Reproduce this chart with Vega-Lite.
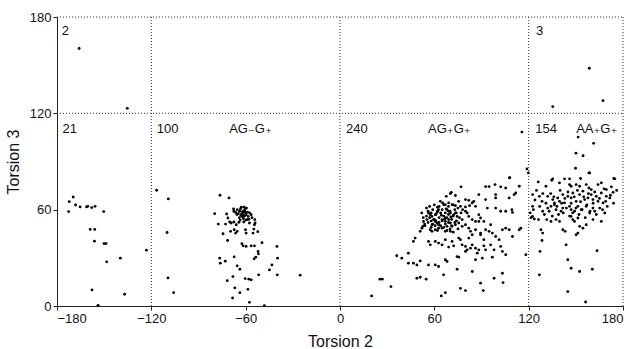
{
"$schema": "https://vega.github.io/schema/vega-lite/v6.json",
"width": 566, "height": 289,
"autosize": "none",
"padding": {"left": 57, "top": 17, "right": 14, "bottom": 43},
"background": "white",
"config": {"view": {"stroke": null}, "font": "Liberation Sans"},
"datasets": {
"pts": [
{"t2":-172.6,"t3":58.8},{"t2":-172.2,"t3":65},{"t2":-169.7,"t3":67.9},{"t2":-168.2,"t3":62.9},{"t2":-165.3,"t3":61.7},{"t2":-161.2,"t3":61.7},{"t2":-160.4,"t3":62.1},{"t2":-157.9,"t3":61.3},{"t2":-155.8,"t3":62.1},{"t2":-150.3,"t3":58.8},{"t2":-158.9,"t3":47.7},{"t2":-156,"t3":47.7},{"t2":-156.2,"t3":40.4},{"t2":-150.1,"t3":38.9},{"t2":-148.8,"t3":38.9},{"t2":-148.4,"t3":27.5},{"t2":-139.7,"t3":29.8},{"t2":-123.1,"t3":34.8},{"t2":-157.7,"t3":10},{"t2":-137,"t3":7.3},{"t2":-153.9,"t3":0.4},
{"t2":-165.9,"t3":160.4},{"t2":-135.3,"t3":123.1},{"t2":158.6,"t3":148.1},{"t2":167.3,"t3":127.9},{"t2":135.3,"t3":124.2},
{"t2":-116.6,"t3":72.1},{"t2":-109.2,"t3":66.7},{"t2":-110,"t3":45.8},{"t2":-109.4,"t3":17.5},{"t2":-105.8,"t3":8.3},
{"t2":-76.3,"t3":69},{"t2":-70.6,"t3":67.3},{"t2":-79.7,"t3":57.5},{"t2":-77.4,"t3":51},{"t2":-72.8,"t3":51},{"t2":-72.1,"t3":57.3},{"t2":-71.3,"t3":54.8},{"t2":-70.2,"t3":52.3},{"t2":-69.2,"t3":51.7},{"t2":-67.7,"t3":60.4},{"t2":-67.5,"t3":59},{"t2":-66.4,"t3":58.3},{"t2":-65.4,"t3":60},{"t2":-64.7,"t3":57.5},{"t2":-63.9,"t3":59},{"t2":-63.3,"t3":60.4},{"t2":-62.6,"t3":57.3},{"t2":-62.2,"t3":55.8},{"t2":-61.6,"t3":59},{"t2":-60.5,"t3":60},{"t2":-60.1,"t3":57.9},{"t2":-59.7,"t3":56.9},{"t2":-58.4,"t3":55.8},{"t2":-59.1,"t3":53.8},{"t2":-57.6,"t3":51.7},{"t2":-56.5,"t3":56.9},{"t2":-54.2,"t3":53.8},{"t2":-54,"t3":51.7},{"t2":-54.4,"t3":50.6},{"t2":-61.2,"t3":52.3},{"t2":-64.3,"t3":52.1},{"t2":-66,"t3":50.6},{"t2":-67.5,"t3":52.3},{"t2":-69.6,"t3":46.5},{"t2":-67.3,"t3":47.5},{"t2":-66.4,"t3":45.4},{"t2":-65.4,"t3":46.5},{"t2":-71.5,"t3":40.8},{"t2":-74.4,"t3":45},{"t2":-60.1,"t3":47.5},{"t2":-59.7,"t3":45.4},{"t2":-54.8,"t3":47.9},{"t2":-55.3,"t3":45.4},{"t2":-52.3,"t3":46.3},{"t2":-62.4,"t3":38.8},{"t2":-61.6,"t3":37.5},{"t2":-59.7,"t3":37.1},{"t2":-56.5,"t3":37.5},{"t2":-54.4,"t3":37.5},{"t2":-52.1,"t3":34},{"t2":-51.9,"t3":32.5},{"t2":-53.6,"t3":30.4},{"t2":-54.6,"t3":29.4},{"t2":-49.6,"t3":39.4},{"t2":-40.1,"t3":37.1},{"t2":-39.7,"t3":29.8},{"t2":-43.3,"t3":25.6},{"t2":-44.9,"t3":22.5},{"t2":-39.9,"t3":19.4},{"t2":-51.7,"t3":19.4},{"t2":-25.3,"t3":19.2},{"t2":-76.5,"t3":29.8},{"t2":-76.1,"t3":26.7},{"t2":-73,"t3":27.9},{"t2":-67.3,"t3":30.6},{"t2":-65.4,"t3":25},{"t2":-63.7,"t3":22.9},{"t2":-71.7,"t3":15.8},{"t2":-68.1,"t3":18.3},{"t2":-60.3,"t3":17.1},{"t2":-58,"t3":16.7},{"t2":-56.5,"t3":16.3},{"t2":-66.9,"t3":11.3},{"t2":-63.7,"t3":8.3},{"t2":-58.6,"t3":10.4},{"t2":-68.3,"t3":5},{"t2":-57.6,"t3":2.3},{"t2":-48.1,"t3":0.2},
{"t2":-61,"t3":61.5},{"t2":-62,"t3":58.5},{"t2":-60.8,"t3":56},{"t2":-63,"t3":56.5},{"t2":-58.8,"t3":58.5},{"t2":-61.5,"t3":54.5},{"t2":-64,"t3":55},{"t2":-59.5,"t3":61},{"t2":-57.5,"t3":58},{"t2":-62.8,"t3":61.5},{"t2":-60,"t3":53.5},{"t2":-65.5,"t3":57},{"t2":-58,"t3":54},{"t2":-63.5,"t3":53.5},{"t2":-56,"t3":55},{"t2":-60.5,"t3":58.8},{"t2":-61.8,"t3":57},
{"t2":108,"t3":80},{"t2":92.6,"t3":74.4},{"t2":94.8,"t3":74.4},{"t2":98.6,"t3":75.6},{"t2":102.2,"t3":74.2},{"t2":105.4,"t3":73.5},{"t2":114,"t3":74.6},{"t2":111.8,"t3":70.4},{"t2":110.8,"t3":69.4},{"t2":107.6,"t3":67.3},
{"t2":99,"t3":69.4},{"t2":99,"t3":67.3},{"t2":88.3,"t3":69.4},{"t2":92.6,"t3":66.3},{"t2":77,"t3":74.2},{"t2":70.8,"t3":70.8},{"t2":70.2,"t3":70},{"t2":73.4,"t3":68.8},{"t2":67.6,"t3":68.3},{"t2":63.8,"t3":65.2},
{"t2":65.3,"t3":64.2},{"t2":67,"t3":63.1},{"t2":69.1,"t3":64.2},{"t2":71.3,"t3":63.1},{"t2":75.5,"t3":65.2},{"t2":79.8,"t3":66.3},{"t2":81.9,"t3":65.8},{"t2":84.1,"t3":64.2},{"t2":85.1,"t3":65.2},{"t2":73.4,"t3":62.5},
{"t2":76.6,"t3":62.1},{"t2":79.8,"t3":61.7},{"t2":82.4,"t3":62.5},{"t2":86.2,"t3":62.1},{"t2":93.7,"t3":61},{"t2":99,"t3":61},{"t2":102.2,"t3":59},{"t2":105.4,"t3":59},{"t2":109.3,"t3":60},{"t2":109.7,"t3":58.3},
{"t2":79.8,"t3":59},{"t2":80.9,"t3":57.9},{"t2":81.9,"t3":55.8},{"t2":84.1,"t3":53.8},{"t2":86.2,"t3":52.7},{"t2":88.3,"t3":56.9},{"t2":89.4,"t3":54.8},{"t2":88.3,"t3":52.7},{"t2":91.5,"t3":52.7},{"t2":95.8,"t3":50.6},
{"t2":73.4,"t3":57.9},{"t2":72.3,"t3":56.9},{"t2":74.5,"t3":55.8},{"t2":68.1,"t3":60},{"t2":69.1,"t3":59},{"t2":70.2,"t3":57.9},{"t2":62.7,"t3":60},{"t2":61.7,"t3":58.3},{"t2":60.6,"t3":56.9},{"t2":58.5,"t3":55.8},
{"t2":56.3,"t3":57.9},{"t2":57.4,"t3":56.9},{"t2":59.5,"t3":53.8},{"t2":60.6,"t3":52.7},{"t2":61.7,"t3":51.7},{"t2":62.7,"t3":50.6},{"t2":64.9,"t3":53.8},{"t2":67,"t3":54.8},{"t2":67,"t3":52.7},{"t2":69.1,"t3":53.8},
{"t2":70.2,"t3":51.7},{"t2":68.1,"t3":49.6},{"t2":71.3,"t3":49.6},{"t2":73.4,"t3":50.6},{"t2":75.5,"t3":51.7},{"t2":77.7,"t3":53.8},{"t2":64.9,"t3":48.5},{"t2":62.7,"t3":48.5},{"t2":60.6,"t3":47.5},{"t2":58.5,"t3":50.6},
{"t2":55.3,"t3":53.8},{"t2":53.1,"t3":52.7},{"t2":53.8,"t3":51},{"t2":52.1,"t3":48.5},{"t2":51,"t3":46.5},{"t2":52.7,"t3":49.6},{"t2":57.4,"t3":47.5},{"t2":58.5,"t3":46.5},{"t2":67,"t3":46.5},{"t2":70.2,"t3":46.5},
{"t2":77.7,"t3":49.6},{"t2":79.8,"t3":50.6},{"t2":81.9,"t3":48.5},{"t2":83,"t3":46.5},{"t2":86.2,"t3":47.5},{"t2":84.1,"t3":44.4},{"t2":81.9,"t3":42.3},{"t2":89.4,"t3":44.4},{"t2":92.6,"t3":47.5},{"t2":89.4,"t3":45.4},
{"t2":94.8,"t3":46.5},{"t2":91.5,"t3":41.3},{"t2":96.9,"t3":45.4},{"t2":99,"t3":43.3},{"t2":101.2,"t3":41.3},{"t2":109.7,"t3":43.3},{"t2":114,"t3":47.5},{"t2":115,"t3":48.5},{"t2":103.3,"t3":47.5},{"t2":105.4,"t3":48.5},
{"t2":107.6,"t3":47.5},{"t2":47.8,"t3":42.3},{"t2":46.7,"t3":40.2},{"t2":56.3,"t3":40.2},{"t2":57.4,"t3":38.1},{"t2":60.6,"t3":40.2},{"t2":62.7,"t3":39.2},{"t2":64.9,"t3":38.1},{"t2":67,"t3":41.3},{"t2":69.1,"t3":36.7},
{"t2":71.3,"t3":40.2},{"t2":72.3,"t3":37.5},{"t2":75.5,"t3":42.3},{"t2":76.6,"t3":41.3},{"t2":77.7,"t3":38.1},{"t2":79.8,"t3":37.1},{"t2":80.9,"t3":35},{"t2":83,"t3":36},{"t2":84.1,"t3":38.1},{"t2":86.2,"t3":36},
{"t2":88.3,"t3":35},{"t2":87.3,"t3":32.9},{"t2":91.5,"t3":37.5},{"t2":92.6,"t3":35},{"t2":95.8,"t3":38.1},{"t2":98,"t3":35},{"t2":102.2,"t3":37.1},{"t2":103.3,"t3":34},{"t2":43.5,"t3":32.9},{"t2":36.1,"t3":31.3},
{"t2":39.3,"t3":29.8},{"t2":43.5,"t3":26.7},{"t2":46.7,"t3":26.7},{"t2":48.9,"t3":25.6},{"t2":51,"t3":28.1},{"t2":56.3,"t3":25.6},{"t2":60.6,"t3":25.6},{"t2":62.7,"t3":24.6},{"t2":67,"t3":28.8},{"t2":68.1,"t3":27.7},
{"t2":74.5,"t3":30.8},{"t2":75.5,"t3":30.4},{"t2":79.8,"t3":34},{"t2":86.2,"t3":28.8},{"t2":90.5,"t3":29.8},{"t2":96.9,"t3":30.4},{"t2":105.4,"t3":31.9},{"t2":118.2,"t3":31.9},{"t2":48.9,"t3":17.3},{"t2":51,"t3":17.9},
{"t2":54.8,"t3":16.7},{"t2":65.9,"t3":19.4},{"t2":74.5,"t3":22.9},{"t2":84.1,"t3":21.5},{"t2":98,"t3":17.3},{"t2":103.3,"t3":20.4},{"t2":103.7,"t3":14.6},{"t2":89.4,"t3":14.2},{"t2":91.1,"t3":9.6},{"t2":76.6,"t3":11},
{"t2":79.8,"t3":9.6},{"t2":67,"t3":8.3},{"t2":64.4,"t3":6.3},{"t2":25.4,"t3":16.7},{"t2":26.9,"t3":16.7},{"t2":32.4,"t3":12.1},{"t2":20.1,"t3":6.3},
{"t2":115.7,"t3":108.3},{"t2":118.9,"t3":85.4},{"t2":119.8,"t3":82.9},{"t2":107.8,"t3":79.8},
{"t2":55,"t3":56},{"t2":56,"t3":59},{"t2":57,"t3":55},{"t2":58,"t3":58},{"t2":59,"t3":60},{"t2":60,"t3":54},{"t2":61,"t3":57},{"t2":62,"t3":59},{"t2":63,"t3":55},{"t2":64,"t3":58},
{"t2":65,"t3":60},{"t2":66,"t3":56},{"t2":67,"t3":58},{"t2":68,"t3":55},{"t2":69,"t3":57},{"t2":70,"t3":59},{"t2":71,"t3":54},{"t2":72,"t3":56},{"t2":73,"t3":60},{"t2":74,"t3":53},
{"t2":54,"t3":50},{"t2":56,"t3":52},{"t2":58,"t3":49},{"t2":59,"t3":51},{"t2":61,"t3":53},{"t2":62,"t3":47},{"t2":63,"t3":52},{"t2":64,"t3":50},{"t2":65,"t3":53},{"t2":66,"t3":49},
{"t2":67,"t3":51},{"t2":68,"t3":47},{"t2":69,"t3":52},{"t2":70,"t3":48},{"t2":71,"t3":50},{"t2":72,"t3":46},{"t2":73,"t3":52},{"t2":75,"t3":48},{"t2":76,"t3":55},{"t2":77,"t3":58},
{"t2":57,"t3":62},{"t2":60,"t3":63},{"t2":63,"t3":62},{"t2":66,"t3":63},{"t2":69,"t3":62},{"t2":72,"t3":63},{"t2":75,"t3":61},{"t2":53,"t3":55},{"t2":52,"t3":58},{"t2":55,"t3":61},
{"t2":62,"t3":61.5},{"t2":64.5,"t3":56.5},{"t2":66.5,"t3":54},{"t2":60.5,"t3":50},{"t2":58,"t3":53},{"t2":67.5,"t3":60.5},{"t2":70.5,"t3":55.5},{"t2":74,"t3":58},{"t2":78,"t3":60},
{"t2":151.5,"t3":105.2},{"t2":161.3,"t3":101.3},{"t2":150.1,"t3":95.2},{"t2":154.6,"t3":93.6},{"t2":149.8,"t3":85.8},{"t2":158.3,"t3":82.9},{"t2":153,"t3":79.4},{"t2":146,"t3":79.2},{"t2":174.1,"t3":79.4},{"t2":135.3,"t3":79.2},
{"t2":126.1,"t3":77.3},{"t2":131,"t3":74.6},{"t2":134.7,"t3":78.3},{"t2":139.6,"t3":76.7},{"t2":142.8,"t3":79.2},{"t2":146,"t3":75.6},{"t2":147,"t3":74.6},{"t2":150.2,"t3":75.6},{"t2":152.4,"t3":74.6},{"t2":156.6,"t3":75.6},
{"t2":158.8,"t3":82.9},{"t2":158.3,"t3":73.5},{"t2":159.8,"t3":72.5},{"t2":164.1,"t3":75.6},{"t2":166.2,"t3":76.7},{"t2":169.4,"t3":72.5},{"t2":172.6,"t3":74.2},{"t2":174.8,"t3":79.2},{"t2":173.7,"t3":70.8},
{"t2":122.5,"t3":69.4},{"t2":126.8,"t3":68.3},{"t2":128.5,"t3":65.2},{"t2":132.1,"t3":68.3},{"t2":135.3,"t3":66.3},{"t2":136.4,"t3":64.2},{"t2":138.5,"t3":67.3},{"t2":139.6,"t3":65.2},{"t2":141.7,"t3":69.4},{"t2":142.8,"t3":64.2},
{"t2":144.9,"t3":68.3},{"t2":147,"t3":67.3},{"t2":148.1,"t3":70.4},{"t2":150.2,"t3":65.2},{"t2":152.4,"t3":69.4},{"t2":154.5,"t3":71.5},{"t2":155.6,"t3":66.3},{"t2":157.7,"t3":67.3},{"t2":159.8,"t3":69.4},{"t2":160.9,"t3":66.3},
{"t2":163,"t3":68.3},{"t2":164.1,"t3":65.2},{"t2":166.2,"t3":70.4},{"t2":167.3,"t3":64.2},{"t2":169,"t3":65.2},{"t2":169.4,"t3":68.3},{"t2":171.6,"t3":67.3},
{"t2":122.5,"t3":62.1},{"t2":128.9,"t3":59},{"t2":132.1,"t3":61},{"t2":134.2,"t3":62.1},{"t2":136.4,"t3":63.1},{"t2":137.4,"t3":60},{"t2":140.6,"t3":59},{"t2":141.7,"t3":61},{"t2":146,"t3":62.1},{"t2":147,"t3":60},
{"t2":149.2,"t3":59},{"t2":151.3,"t3":62.1},{"t2":153.4,"t3":60},{"t2":156.6,"t3":62.1},{"t2":158.8,"t3":57.9},{"t2":160.9,"t3":61},{"t2":162,"t3":59},{"t2":165.2,"t3":61},{"t2":168.4,"t3":57.9},
{"t2":122.5,"t3":55.8},{"t2":123.6,"t3":54.2},{"t2":126.3,"t3":53.8},{"t2":127.8,"t3":47.5},{"t2":131.5,"t3":53.8},{"t2":134.2,"t3":52.7},{"t2":137.4,"t3":53.8},{"t2":139.6,"t3":52.7},{"t2":141.7,"t3":47.5},{"t2":143.2,"t3":46.5},
{"t2":147,"t3":55.8},{"t2":148.1,"t3":53.8},{"t2":149.2,"t3":52.7},{"t2":151.3,"t3":54.8},{"t2":152.4,"t3":49.6},{"t2":154.5,"t3":48.5},{"t2":156.6,"t3":50.6},{"t2":160.9,"t3":53.8},{"t2":166.2,"t3":52.7},
{"t2":128.5,"t3":40.8},{"t2":128.9,"t3":45.4},{"t2":127.2,"t3":34},{"t2":126.8,"t3":19.4},{"t2":143.8,"t3":38.1},{"t2":144.9,"t3":28.8},{"t2":147,"t3":23.5},{"t2":152.4,"t3":21.5},{"t2":160.5,"t3":22.9},{"t2":163.5,"t3":34.4},
{"t2":144.9,"t3":9},{"t2":156.2,"t3":2.5},{"t2":150.2,"t3":44.4},{"t2":151.3,"t3":45.4},
{"t2":121,"t3":58},{"t2":121.5,"t3":55},{"t2":123,"t3":60},{"t2":124,"t3":66},{"t2":125,"t3":72},{"t2":127,"t3":62},{"t2":129,"t3":70},{"t2":130,"t3":57},{"t2":131,"t3":64},{"t2":133,"t3":59},
{"t2":134,"t3":70},{"t2":135,"t3":56},{"t2":136,"t3":68},{"t2":138,"t3":62},{"t2":139,"t3":57},{"t2":140,"t3":72},{"t2":141,"t3":64},{"t2":142,"t3":58},{"t2":143,"t3":67},{"t2":144,"t3":61},
{"t2":145,"t3":71},{"t2":146,"t3":56},{"t2":147,"t3":64},{"t2":148,"t3":58},{"t2":149,"t3":68},{"t2":150,"t3":61},{"t2":151,"t3":72},{"t2":152,"t3":57},{"t2":153,"t3":65},{"t2":154,"t3":60},
{"t2":155,"t3":68},{"t2":156,"t3":55},{"t2":157,"t3":63},{"t2":158,"t3":70},{"t2":159,"t3":59},{"t2":161,"t3":64},{"t2":162,"t3":71},{"t2":163,"t3":57},{"t2":165,"t3":67},{"t2":167,"t3":60},
{"t2":168,"t3":73},{"t2":170,"t3":62},{"t2":172,"t3":69},{"t2":174,"t3":64},{"t2":176,"t3":72}
],
"vrules": [{"x": -120}, {"x": 0}, {"x": 120}, {"x": 180}],
"hrules": [{"y": 120}, {"y": 180}],
"labels": [
{"x": -177, "y": 171, "label": "2"},
{"x": -176.5, "y": 110.5, "label": "21"},
{"x": -116.5, "y": 110.5, "label": "100"},
{"x": -70.5, "y": 110.5, "label": "AG₋G₊"},
{"x": 3.8, "y": 110.5, "label": "240"},
{"x": 56, "y": 110.5, "label": "AG₊G₊"},
{"x": 124.7, "y": 171, "label": "3"},
{"x": 124.2, "y": 110.5, "label": "154"},
{"x": 150.2, "y": 110.5, "label": "AA₊G₊"}
]
},
"layer": [
{"data": {"name": "vrules"}, "mark": {"type": "rule", "strokeDash": [1, 2], "color": "#333", "strokeWidth": 1},
 "encoding": {"x": {"field": "x", "type": "quantitative", "scale": {"domain": [-180, 180], "nice": false}}, "y": {"datum": 0, "type": "quantitative"}, "y2": {"datum": 180}}},
{"data": {"name": "hrules"}, "mark": {"type": "rule", "strokeDash": [1, 2], "color": "#333", "strokeWidth": 1},
 "encoding": {"y": {"field": "y", "type": "quantitative"}, "x": {"datum": -180, "type": "quantitative"}, "x2": {"datum": 180}}},
{"data": {"name": "pts"}, "mark": {"type": "circle", "size": 8, "color": "black", "opacity": 1},
 "encoding": {
  "x": {"field": "t2", "type": "quantitative", "scale": {"domain": [-180, 180], "nice": false, "zero": false},
   "axis": {"title": "Torsion 2", "values": [-180, -120, -60, 0, 60, 120, 180], "grid": false, "domainColor": "#222", "tickColor": "#222", "tickSize": 4, "labelFontSize": 13, "labelColor": "#111", "labelPadding": 2, "titleFontSize": 16, "titleFontWeight": "normal", "titleColor": "#111", "titlePadding": 8}},
  "y": {"field": "t3", "type": "quantitative", "scale": {"domain": [0, 180], "nice": false},
   "axis": {"title": "Torsion 3", "values": [0, 60, 120, 180], "grid": false, "domainColor": "#222", "tickColor": "#222", "tickSize": 4, "labelFontSize": 13, "labelColor": "#111", "labelPadding": 2, "titleFontSize": 16, "titleFontWeight": "normal", "titleColor": "#111", "titlePadding": 8}}
 }},
{"data": {"name": "labels"}, "mark": {"type": "text", "align": "left", "baseline": "middle", "fontSize": 13, "color": "#111", "font": "Liberation Sans, DejaVu Sans"},
 "encoding": {"x": {"field": "x", "type": "quantitative"}, "y": {"field": "y", "type": "quantitative"}, "text": {"field": "label"}}}
]
}
